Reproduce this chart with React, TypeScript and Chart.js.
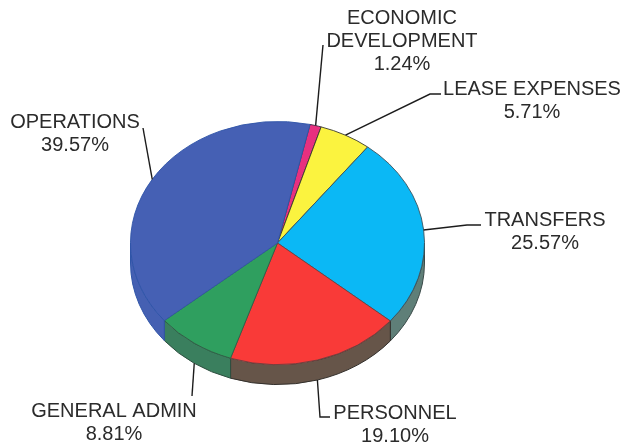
import React, { useEffect, useRef } from "react";
import { Chart, registerables } from "chart.js";

Chart.register(...registerables);

const categories = [
  ["ECONOMIC", "DEVELOPMENT"],
  ["LEASE EXPENSES"],
  ["TRANSFERS"],
  ["PERSONNEL"],
  ["GENERAL ADMIN"],
  ["OPERATIONS"],
];
const shares = [1.24, 5.71, 25.57, 19.1, 8.81, 39.57];
const topColors = ["#e8307f", "#fbf33f", "#0bb8f5", "#f93a38", "#2f9f5f", "#4560b4"];
const edgeColors = ["#3a2a40", "#3c3c2c", "#3c5560", "#704040", "#2f5f45", "#2f55a8"];
const wallColors = ["#a02860", "#a8a030", "#5f7f78", "#665549", "#3a7f5e", "#4560b2"];
const wallEdgeColors = ["#3a3a38", "#3a3a38", "#3a4a48", "#33302c", "#2f4f40", "#2f55a8"];

// Where each callout's text block sits and where its leader line ends up.
const calloutCenters = [
  [402, 17],
  [532, 88],
  [545, 219],
  [395, 412],
  [114, 410],
  [75, 121],
];
const leaderPaths = [
  [[323, 45]],
  [[430, 94], [441, 94]],
  [[467, 225], [481, 225]],
  [[320, 417], [330, 417]],
  [[192, 396]],
  [[143, 128]],
];

const TILT = 122 / 147.5;
const DEPTH = 20;
const ROTATION = 12.8;
const LINE_HEIGHT = 23;
const FONT = '20px "Liberation Sans", Arial, sans-serif';
const TEXT_COLOR = "#2b2b2b";

const formatShare = (v: number) => `${v.toFixed(2)}%`;

const tiltedPie = {
  id: "tiltedPie",
  beforeDatasetsDraw(chart: any) {
    const ctx = chart.ctx;
    const arcs = chart.getDatasetMeta(0).data;
    const { x: cx, y: cy, outerRadius: rx } = arcs[0].getProps(["x", "y", "outerRadius"]);
    const ry = rx * TILT;

    // The rim: only the part of each slice on the near side of the disc shows.
    arcs.forEach((arc: any, i: number) => {
      const { startAngle, endAngle } = arc.getProps(["startAngle", "endAngle"]);
      for (const k of [0, 2]) {
        const a = Math.max(startAngle, k * Math.PI);
        const b = Math.min(endAngle, (k + 1) * Math.PI);
        if (b <= a) continue;
        ctx.save();
        ctx.beginPath();
        ctx.ellipse(cx, cy, rx, ry, 0, a, b);
        ctx.ellipse(cx, cy + DEPTH, rx, ry, 0, b, a, true);
        ctx.closePath();
        ctx.fillStyle = wallColors[i];
        ctx.strokeStyle = wallEdgeColors[i];
        ctx.lineWidth = 1;
        ctx.fill();
        ctx.stroke();
        ctx.restore();
      }
    });

    ctx.save();
    ctx.translate(cx, cy);
    ctx.scale(1, TILT);
    ctx.translate(-cx, -cy);
  },
  afterDatasetsDraw(chart: any) {
    chart.ctx.restore();
  },
  afterDraw(chart: any) {
    const ctx = chart.ctx;
    const arcs = chart.getDatasetMeta(0).data;

    arcs.forEach((arc: any, i: number) => {
      const { x: cx, y: cy, outerRadius: rx, startAngle, endAngle } = arc.getProps([
        "x",
        "y",
        "outerRadius",
        "startAngle",
        "endAngle",
      ]);
      const mid = (startAngle + endAngle) / 2;
      const px = cx + rx * Math.cos(mid);
      const py = cy + rx * TILT * Math.sin(mid);
      const sy = Math.sin(mid) > 0.5 ? py + DEPTH : py;

      ctx.save();
      ctx.strokeStyle = "#1c1c1c";
      ctx.lineWidth = 1.4;
      ctx.beginPath();
      ctx.moveTo(px, sy);
      leaderPaths[i].forEach(([x, y]) => ctx.lineTo(x, y));
      ctx.stroke();

      ctx.font = FONT;
      ctx.fillStyle = TEXT_COLOR;
      ctx.textAlign = "center";
      ctx.textBaseline = "alphabetic";
      const [tx, ty] = calloutCenters[i];
      const lines = [...categories[i], formatShare(shares[i])];
      lines.forEach((line, n) => ctx.fillText(line, tx, ty + 7 + n * LINE_HEIGHT));
      ctx.restore();
    });
  },
};

export default function App() {
  const canvasRef = useRef<HTMLCanvasElement>(null);

  useEffect(() => {
    const chart = new Chart(canvasRef.current!, {
      type: "pie",
      data: {
        labels: categories.map((c) => c.join(" ")),
        datasets: [
          {
            data: shares,
            backgroundColor: topColors,
            borderColor: edgeColors,
            borderWidth: 1,
            clip: false,
          } as any,
        ],
      },
      options: {
        responsive: false,
        animation: false,
        rotation: ROTATION,
        layout: { padding: { left: 130, right: 196, top: 95.5, bottom: 55.5 } },
        plugins: { legend: { display: false }, tooltip: { enabled: false } },
      },
      plugins: [tiltedPie],
    });
    return () => chart.destroy();
  }, []);

  return (
    <div style={{ position: "fixed", left: 0, top: 0, width: 621, height: 446, background: "#fff" }}>
      <canvas ref={canvasRef} width={621} height={446} style={{ display: "block" }} />
    </div>
  );
}
